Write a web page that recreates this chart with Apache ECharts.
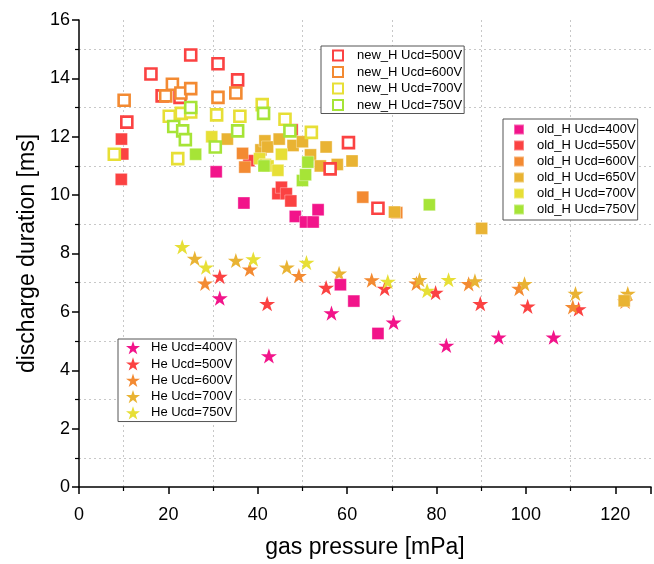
<!DOCTYPE html>
<html>
<head>
<meta charset="utf-8">
<script src="https://cdn.jsdelivr.net/npm/echarts@6/dist/echarts.min.js"></script>
<style>html,body{margin:0;padding:0;background:#fff}#c{width:654px;height:564px}</style>
</head>
<body>
<div id="c"></div>
<script>
// ---- data: [gas pressure mPa, discharge duration ms] ----
const newH500 = [[10.7,12.5],[16.1,14.15],[18.6,13.4],[22.6,13.35],[25,14.8],[31.1,14.5],[35.5,13.95],[56.2,10.9],[60.3,11.8],[66.9,9.55]];
const newH600 = [[10.1,13.25],[19.4,13.4],[20.9,13.8],[22.8,13.5],[25,13.65],[31.1,13.35],[35.1,13.5]];
const newH700 = [[7.9,11.4],[20.2,12.7],[22.1,11.25],[22.9,12.8],[25,12.85],[30.8,12.75],[36,12.7],[41,13.1],[46.1,12.6],[52,12.15]];
const newH750 = [[21.2,12.35],[23.2,12.2],[23.8,11.9],[25,13],[30.5,11.65],[35.5,12.2],[41.3,12.8],[47.2,12.2]];

const oldH400 = [[30.7,10.8],[36.9,9.73],[48.4,9.27],[50.7,9.08],[52.4,9.08],[53.5,9.5],[58.5,6.93],[61.5,6.37],[66.9,5.26]];
const oldH550 = [[9.5,11.92],[9.8,11.41],[9.46,10.54],[38,11.18],[44.5,10.05],[45.3,10.27],[46.4,10.05],[47.4,9.8],[47.7,12.24]];
const oldH600 = [[36.6,11.43],[37.1,10.96],[63.5,9.93],[71.1,9.4]];
const oldH650 = [[33.2,11.92],[40.7,11.55],[41.6,11.86],[42.2,11.65],[44.8,11.92],[47.9,11.7],[50,11.83],[51.8,11.38],[54,11],[55.3,11.65],[57.8,11.05],[61.1,11.17],[70.6,9.42],[90.1,8.86],[122,6.38]];
const oldH700 = [[29.7,12],[40.4,11.25],[41.7,11.05],[42.3,11],[44.5,10.85],[45.3,11.4]];
const oldH750 = [[26.1,11.4],[41.4,11.0],[50,10.5],[50.7,10.7],[51.2,11.13],[78.4,9.67]];

const he400 = [[31.5,6.47],[42.5,4.49],[56.5,5.96],[70.4,5.64],[82.2,4.85],[93.9,5.13],[106.2,5.13]];
const he500 = [[31.5,7.21],[42.1,6.28],[55.3,6.83],[68.4,6.8],[79.8,6.66],[89.8,6.28],[100.4,6.19],[111.8,6.1]];
const he600 = [[28.2,6.98],[38.2,7.46],[49.2,7.24],[65.5,7.09],[75.5,6.98],[87.2,6.96],[98.5,6.8],[110.5,6.17],[122.2,6.36]];
const he700 = [[25.9,7.83],[35.1,7.76],[46.5,7.53],[58.2,7.32],[76.2,7.1],[88.6,7.06],[99.7,6.96],[111.1,6.63],[122.8,6.63]];
const he750 = [[23.1,8.23],[28.4,7.53],[39,7.81],[50.9,7.69],[69.1,7.04],[77.9,6.73],[82.7,7.1]];

const newNames = ['new_H Ucd=500V','new_H Ucd=600V','new_H Ucd=700V','new_H Ucd=750V'];
const oldNames = ['old_H Ucd=400V','old_H Ucd=550V','old_H Ucd=600V','old_H Ucd=650V','old_H Ucd=700V','old_H Ucd=750V'];
const heNames = ['He Ucd=400V','He Ucd=500V','He Ucd=600V','He Ucd=700V','He Ucd=750V'];

const C = {mag:'#f2148a', red:'#fb4242', ora:'#f38a32', amb:'#e9b333', yel:'#e7df36', grn:'#a6e437'};
const STAR = 'path://M50,0 L61.2,34.5 L97.6,34.5 L68.2,55.9 L79.4,90.5 L50,69.1 L20.6,90.5 L31.8,55.9 L2.4,34.5 L38.8,34.5 Z';
const FONT = 'Liberation Sans, Arial, sans-serif';

function filled(name, data, color){
  return {name, type:'scatter', data, symbol:'rect', symbolSize:12,
    itemStyle:{color, borderColor:'rgba(255,255,255,0.35)', borderWidth:1, opacity:1}};
}
function hollow(name, data, color){
  return {name, type:'scatter', data, symbol:'rect', symbolSize:11,
    itemStyle:{color:'#fff', borderColor:color, borderWidth:2.6, opacity:1}};
}
function star(name, data, color){
  return {name, type:'scatter', data, symbol:STAR, symbolSize:16, symbolKeepAspect:true,
    itemStyle:{color, opacity:1}};
}

const series = [
  star(heNames[0], he400, C.mag), star(heNames[1], he500, C.red), star(heNames[2], he600, C.ora),
  star(heNames[3], he700, C.amb), star(heNames[4], he750, C.yel),
  filled(oldNames[0], oldH400, C.mag), filled(oldNames[1], oldH550, C.red), filled(oldNames[2], oldH600, C.ora),
  filled(oldNames[3], oldH650, C.amb), filled(oldNames[4], oldH700, C.yel), filled(oldNames[5], oldH750, C.grn),
  hollow(newNames[0], newH500, C.red), hollow(newNames[1], newH600, C.ora),
  hollow(newNames[2], newH700, C.yel), hollow(newNames[3], newH750, C.grn)
];

function legend(names, left, top, iw, ih, pad, textPad, gap){
  return {data:names, left, top, orient:'vertical', backgroundColor:'#fff', borderColor:'#555', borderWidth:1,
    itemWidth:iw, itemHeight:ih, padding:pad, itemGap:gap, selectedMode:false, borderRadius:0,
    textStyle:{fontSize:13, fontFamily:FONT, color:'#000', padding:[0,0,0,textPad]}};
}

const chart = echarts.init(document.getElementById('c'), null, {renderer:'canvas'});
chart.setOption({
  animation:false,
  backgroundColor:'#fff',
  grid:{left:79, top:20, right:2, bottom:74},
  xAxis:{type:'value', min:0, max:128, interval:20,
    name:'gas pressure [mPa]', nameLocation:'middle', nameGap:49,
    nameTextStyle:{fontSize:23, fontFamily:FONT, color:'#000'},
    axisLine:{show:true, onZero:false, lineStyle:{color:'#000', width:1.5}},
    axisTick:{show:true, length:7, lineStyle:{color:'#000', width:1.5}},
    minorTick:{show:true, splitNumber:2, length:4, lineStyle:{color:'#000', width:1.2}},
    splitLine:{show:false},
    minorSplitLine:{show:true, lineStyle:{color:'#c8c8c8', type:[2,3], width:1}},
    axisLabel:{fontSize:18, fontFamily:FONT, color:'#000', margin:19,
      formatter:v => (v % 20 === 0 && v <= 120) ? String(v) : ''}
  },
  yAxis:{type:'value', min:0, max:16, interval:2,
    name:'discharge duration [ms]', nameLocation:'middle', nameGap:37,
    nameTextStyle:{fontSize:23, fontFamily:FONT, color:'#000'},
    axisLine:{show:true, onZero:false, lineStyle:{color:'#000', width:1.5}},
    axisTick:{show:true, length:7, lineStyle:{color:'#000', width:1.5}},
    minorTick:{show:true, splitNumber:2, length:4, lineStyle:{color:'#000', width:1.2}},
    splitLine:{show:false},
    minorSplitLine:{show:true, lineStyle:{color:'#c8c8c8', type:[2,3], width:1}},
    axisLabel:{fontSize:18, fontFamily:FONT, color:'#000', margin:9}
  },
  legend:[
    legend(newNames, 321, 46, 10, 10, [3,2,2,11], 9, 3.5),
    legend(oldNames, 503, 119, 10, 10, [4,2,4,10], 8, 3),
    legend(heNames, 118, 339, 14, 14, [2,4,2,8], 6, 3)
  ],
  series
});
</script>
</body>
</html>
